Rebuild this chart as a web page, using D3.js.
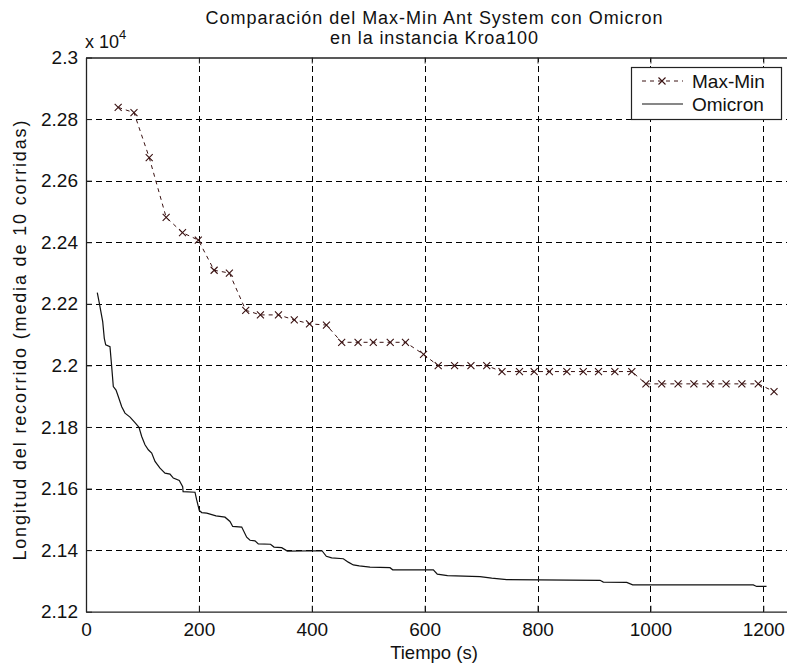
<!DOCTYPE html>
<html>
<head>
<meta charset="utf-8">
<script src="https://cdn.jsdelivr.net/npm/d3@7"></script>
<style>
  html, body { margin: 0; padding: 0; background: #fff; }
  svg { display: block; }
  text { font-family: "Liberation Sans", Arial, sans-serif; fill: #111; }
</style>
</head>
<body>
<div id="chart"></div>
<script>
// ---- data ----
const titleLines = ["Comparación del Max-Min Ant System con Omicron", "en la instancia Kroa100"];
const xLabel = "Tiempo (s)";
const yLabel = "Longitud del recorrido (media de 10 corridas)";
const seriesNames = ["Max-Min", "Omicron"];

const xTicks = [0, 200, 400, 600, 800, 1000, 1200];
const yTicks = [21200, 21400, 21600, 21800, 22000, 22200, 22400, 22600, 22800, 23000];
const yTickLabels = ["2.12", "2.14", "2.16", "2.18", "2.2", "2.22", "2.24", "2.26", "2.28", "2.3"];

const maxMinTime = [57, 85, 112, 142, 171, 199, 227, 254, 283, 309, 341, 369, 396, 426,
  453, 482, 509, 539, 566, 598, 624, 653, 682, 710, 737, 768, 794, 821, 852, 881, 908, 937, 967,
  992, 1020, 1049, 1077, 1106, 1134, 1162, 1191, 1219];
const maxMinValue = [22838, 22821, 22675, 22481, 22431, 22407, 22309, 22300, 22179, 22164, 22164, 22148, 22135, 22131,
  22075, 22075, 22075, 22075, 22075, 22036, 21999, 21999, 21999, 21999,
  21980, 21980, 21980, 21980, 21980, 21980, 21980, 21980, 21980,
  21940, 21940, 21940, 21940, 21940, 21940, 21940, 21940, 21915];

const omicronTime = [20, 23.6, 29.6, 32.4, 34.9, 42.5, 45.5, 48.4, 53.2, 57.2, 63.3, 69.1, 78, 86.8, 93.9,
  98.7, 104.5, 110.4, 116.4, 122.3, 131.1, 140, 148.8, 154.7, 165.3, 171.3, 172, 193.1, 196.1, 200.7,
  205, 213.9, 230.3, 246.3, 255.1, 259.9, 275.9, 284.7, 290.6, 299.4, 305.3, 326.9, 333.1, 346.7,
  356.7, 418.1, 425.8, 435.3, 455.9, 464.7, 473.6, 484.2, 503.2, 538.6, 543.4, 615.4, 622.4, 640.5,
  698.1, 718.8, 745.4, 910.7, 916.6, 958, 968.6, 1182.3, 1188.3, 1205.7];
const omicronValue = [22236, 22202, 22142, 22088, 22067, 22061, 21996, 21931, 21920, 21899, 21866, 21845, 21832, 21814, 21799,
  21769, 21742, 21726, 21715, 21688, 21666, 21650, 21647, 21634, 21626, 21606, 21590, 21588, 21563, 21529,
  21522, 21520, 21511, 21507, 21493, 21477, 21475, 21442, 21432, 21430, 21420, 21419, 21410, 21408,
  21397, 21398, 21380, 21375, 21372, 21361, 21352, 21349, 21345, 21343, 21336, 21336, 21322, 21317,
  21314, 21309, 21304, 21302, 21296, 21295, 21287, 21287, 21282, 21282];

// ---- layout ----
const W = 787, H = 668;
const pLeft = 86, pTop = 57.5, pBottom = 611.7;
const x = d3.scaleLinear().domain([0, 1250]).range([pLeft, pLeft + 1250 * (763.3 - 86) / 1200]);
const y = d3.scaleLinear().domain([21200, 23000]).range([pBottom, pTop]);
const pRight = x(1250);

const svg = d3.select("#chart").append("svg").attr("width", W).attr("height", H);

// grid
const grid = svg.append("g").attr("stroke", "#000").attr("stroke-width", 1).attr("stroke-dasharray", "6,4").attr("shape-rendering", "crispEdges");
grid.selectAll("line.v").data(xTicks.slice(1)).join("line").attr("class", "v")
  .attr("x1", d => Math.round(x(d)) + 0.5).attr("x2", d => Math.round(x(d)) + 0.5)
  .attr("y1", pBottom).attr("y2", pTop);
grid.selectAll("line.h").data(yTicks.slice(1, -1)).join("line").attr("class", "h")
  .attr("x1", pLeft).attr("x2", pRight)
  .attr("y1", d => Math.round(y(d)) + 0.5).attr("y2", d => Math.round(y(d)) + 0.5);

// axes (ticks inside)
const tickLen = 6;
const axB = svg.append("g").attr("transform", `translate(0,${pBottom})`)
  .call(d3.axisBottom(x).tickValues(xTicks).tickSizeInner(-tickLen).tickSizeOuter(0).tickFormat(d3.format("d")));
const axT = svg.append("g").attr("transform", `translate(0,${pTop})`)
  .call(d3.axisTop(x).tickValues(xTicks).tickSizeInner(-tickLen).tickSizeOuter(0).tickFormat(""));
const axL = svg.append("g").attr("transform", `translate(${pLeft},0)`)
  .call(d3.axisLeft(y).tickValues(yTicks).tickSizeInner(-tickLen).tickSizeOuter(0).tickPadding(8)
    .tickFormat((d, i) => yTickLabels[i]));
[axB, axT, axL].forEach(a => {
  a.select(".domain").attr("stroke", "#222").attr("stroke-width", 1.3);
  a.selectAll(".tick line").attr("stroke", "#222");
  a.selectAll("text").attr("font-size", 19).attr("fill", "#222")
    .style("font-family", '"Liberation Sans", Arial, sans-serif');
});
axB.selectAll("text").attr("dy", null).attr("y", 24.5);

// exponent label
const ex = svg.append("text").attr("x", 85).attr("y", 48).attr("font-size", 18);
ex.append("tspan").text("x 10");
ex.append("tspan").attr("dy", -9).attr("font-size", 13).text("4");

// title
const titleWidths = [457, 208];
svg.selectAll("text.title").data(titleLines).join("text")
  .attr("class", "title")
  .attr("x", 434).attr("y", (d, i) => 24 + i * 20)
  .attr("text-anchor", "middle").attr("font-size", 18)
  .attr("textLength", (d, i) => titleWidths[i]).attr("lengthAdjust", "spacing")
  .text(d => d);

// axis labels
svg.append("text").attr("x", 434).attr("y", 659).attr("text-anchor", "middle").attr("font-size", 18.5).text(xLabel);
svg.append("text").attr("transform", `translate(26,${(pTop + pBottom) / 2 + 6}) rotate(-90)`)
  .attr("text-anchor", "middle").attr("font-size", 18).attr("textLength", 440).attr("lengthAdjust", "spacing")
  .text(yLabel);

// series
const mm = maxMinTime.map((t, i) => [t, maxMinValue[i]]);
const om = omicronTime.map((t, i) => [t, omicronValue[i]]);
const line = d3.line().x(d => x(d[0])).y(d => y(d[1]));
const mmColor = "#3a1212";

svg.append("path").datum(om).attr("d", line).attr("fill", "none").attr("stroke", "#111").attr("stroke-width", 1.2);
svg.append("path").datum(mm).attr("d", line).attr("fill", "none").attr("stroke", mmColor)
  .attr("stroke-width", 1).attr("stroke-dasharray", "4,4");
const xm = 3.5;
const crossPath = (cx, cy) => `M${cx - xm},${cy - xm}L${cx + xm},${cy + xm}M${cx - xm},${cy + xm}L${cx + xm},${cy - xm}`;
svg.append("g").selectAll("path").data(mm).join("path")
  .attr("d", d => crossPath(x(d[0]), y(d[1])))
  .attr("stroke", mmColor).attr("stroke-width", 1.1).attr("fill", "none");

// legend
const lg = svg.append("g");
lg.append("rect").attr("x", 631.5).attr("y", 67.5).attr("width", 150).attr("height", 52)
  .attr("fill", "#fff").attr("stroke", "#222").attr("stroke-width", 1.2);
const legY = [81, 104];
lg.append("line").attr("x1", 642).attr("x2", 683).attr("y1", legY[0]).attr("y2", legY[0])
  .attr("stroke", mmColor).attr("stroke-dasharray", "4,4");
lg.append("path").attr("d", crossPath(662, legY[0])).attr("stroke", mmColor).attr("stroke-width", 1.1);
lg.append("line").attr("x1", 642).attr("x2", 683).attr("y1", legY[1]).attr("y2", legY[1])
  .attr("stroke", "#111").attr("stroke-width", 1.2);
lg.selectAll("text").data(seriesNames).join("text")
  .attr("x", 692).attr("y", (d, i) => legY[i] + 7).attr("font-size", 19).text(d => d);
</script>
</body>
</html>
